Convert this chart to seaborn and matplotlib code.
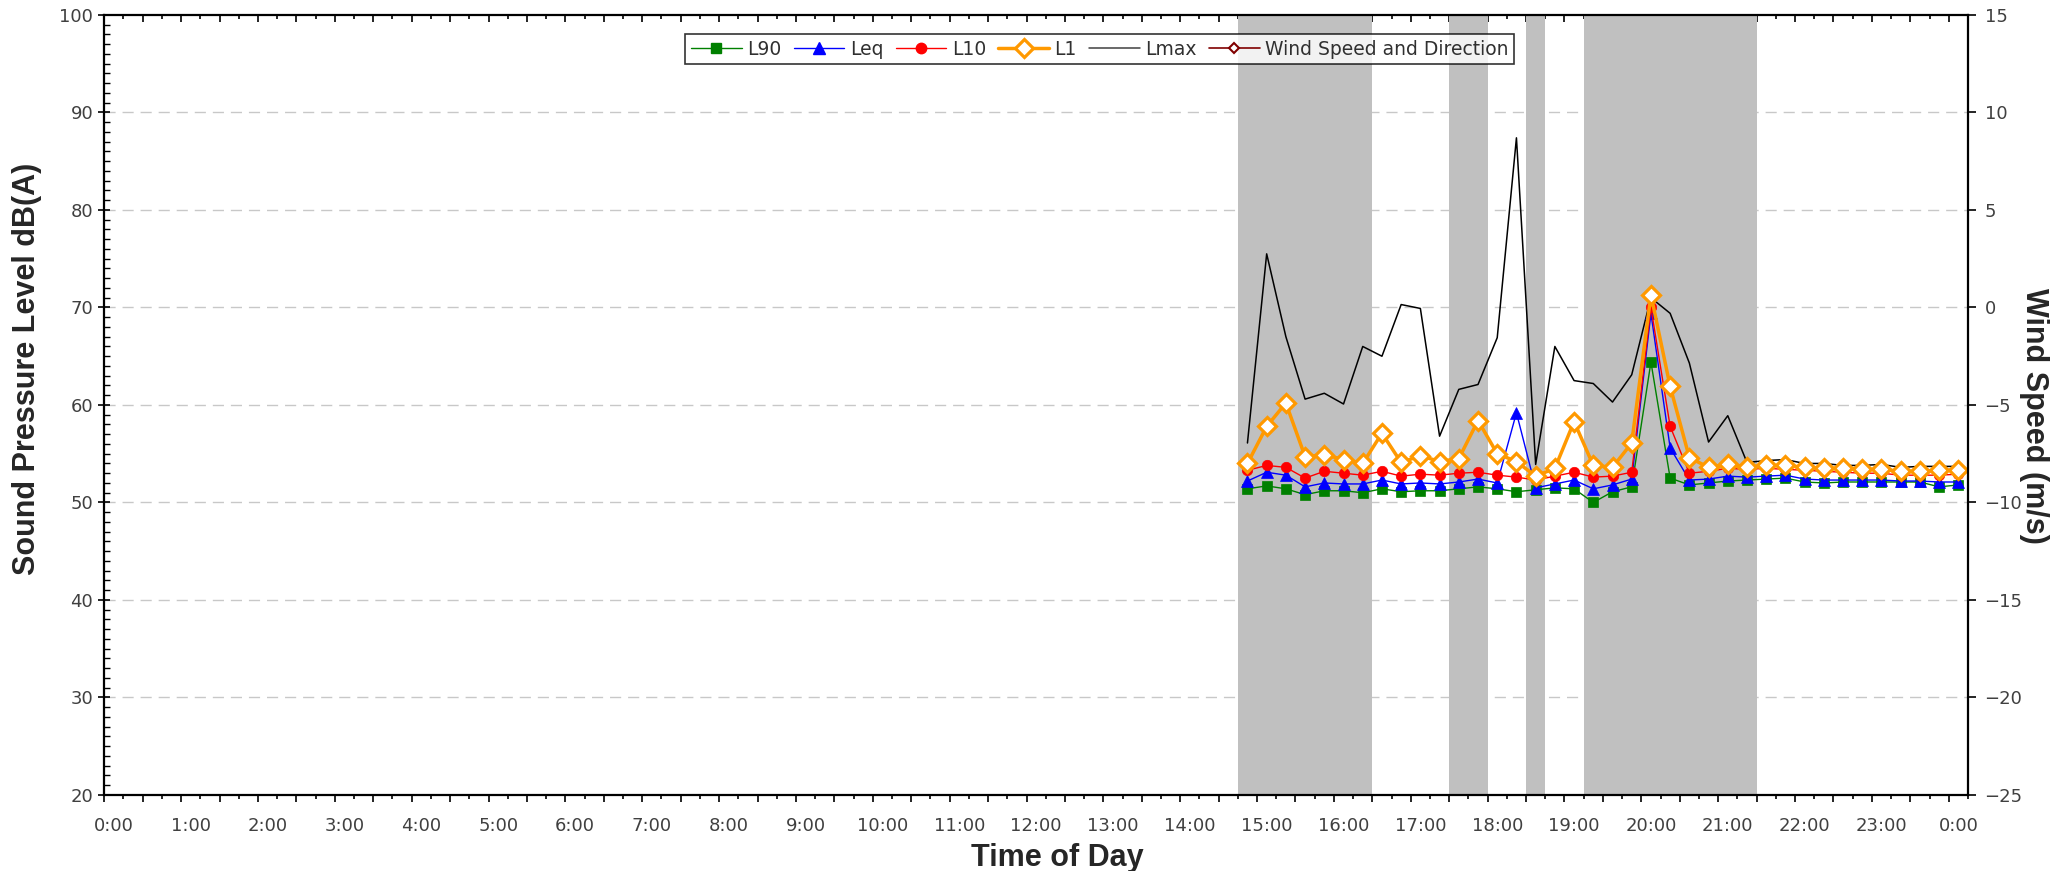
import numpy as np
import pandas as pd
import matplotlib
matplotlib.use("Agg")
import matplotlib.pyplot as plt
from matplotlib.lines import Line2D
import seaborn as sns

# ---------------- data ----------------
times = ["14:45", "15:00", "15:15", "15:30", "15:45", "16:00", "16:15", "16:30",
         "16:45", "17:00", "17:15", "17:30", "17:45", "18:00", "18:15", "18:30",
         "18:45", "19:00", "19:15", "19:30", "19:45", "20:00", "20:15", "20:30",
         "20:45", "21:00", "21:15", "21:30", "21:45", "22:00", "22:15", "22:30",
         "22:45", "23:00", "23:15", "23:30", "23:45", "24:00"]

L90 = [51.4, 51.7, 51.4, 50.8, 51.2, 51.2, 51.0, 51.4, 51.1, 51.2, 51.2, 51.4, 51.6,
       51.4, 51.1, 51.3, 51.5, 51.4, 50.0, 51.1, 51.6, 64.4, 52.5, 51.8, 52.0, 52.2,
       52.3, 52.4, 52.5, 52.1, 52.0, 52.1, 52.1, 52.1, 52.1, 52.1, 51.6, 51.8]
Leq = [52.2, 53.1, 52.8, 51.6, 52.0, 51.9, 51.9, 52.3, 51.9, 52.0, 51.9, 52.1, 52.4,
       52.0, 59.2, 51.5, 51.9, 52.3, 51.4, 51.8, 52.4, 69.4, 55.6, 52.3, 52.4, 52.7,
       52.6, 52.7, 52.8, 52.4, 52.3, 52.3, 52.3, 52.3, 52.2, 52.2, 52.1, 52.1]
L10 = [53.3, 53.8, 53.6, 52.5, 53.2, 53.0, 52.8, 53.2, 52.7, 52.9, 52.8, 53.0, 53.1,
       52.8, 52.6, 52.3, 52.7, 53.1, 52.6, 52.7, 53.1, 70.0, 57.8, 53.0, 53.2, 53.5,
       53.4, 53.5, 53.4, 53.3, 53.2, 53.1, 53.0, 53.0, 52.8, 52.8, 52.8, 52.9]
L1 = [54.0, 57.8, 60.2, 54.7, 54.9, 54.4, 54.0, 57.1, 54.1, 54.8, 54.2, 54.5, 58.4,
      55.0, 54.2, 52.7, 53.5, 58.3, 53.8, 53.6, 56.1, 71.3, 61.9, 54.6, 53.6, 53.9,
      53.6, 53.8, 53.8, 53.6, 53.5, 53.5, 53.4, 53.4, 53.2, 53.2, 53.3, 53.3]
Lmax = [56.1, 75.5, 67.0, 60.6, 61.2, 60.1, 66.0, 65.0, 70.3, 69.9, 56.8, 61.6, 62.1,
        66.9, 87.4, 53.9, 66.0, 62.5, 62.2, 60.3, 63.1, 71.0, 69.4, 64.3, 56.2, 58.9,
        54.1, 54.3, 54.4, 54.0, 54.0, 53.8, 53.8, 53.9, 53.6, 53.7, 53.7, 53.7]
# periods excluded / flagged (grey bands), one flag per 15-minute interval
flagged = [1, 1, 1, 1, 1, 1, 1, 0, 0, 0, 0, 1, 1, 0, 0, 1, 0, 0, 1, 1, 1, 1, 1, 1,
           1, 1, 1, 0, 0, 0, 0, 0, 0, 0, 0, 0, 0, 0]
wind_speed = []  # no wind data recorded

hour_labels = ["0:00", "1:00", "2:00", "3:00", "4:00", "5:00", "6:00", "7:00", "8:00",
               "9:00", "10:00", "11:00", "12:00", "13:00", "14:00", "15:00", "16:00",
               "17:00", "18:00", "19:00", "20:00", "21:00", "22:00", "23:00", "0:00"]

# ---------------- build frame ----------------
def to_hours(t):
    h, m = t.split(":")
    return int(h) + int(m) / 60.0

df = pd.DataFrame({"t": [to_hours(t) for t in times], "L90": L90, "Leq": Leq,
                   "L10": L10, "L1": L1, "Lmax": Lmax, "flag": flagged})

sns.set_style("white")
plt.rcParams["font.family"] = ["DejaVu Sans"]

fig = plt.figure(figsize=(20.65, 8.71), dpi=100)
ax = fig.add_axes([0.0505, 0.0873, 0.9025, 0.8955])
ax.set_xlim(-0.125, 24.125)
ax.set_ylim(20, 100)

# grey bands
fl = df[df["flag"] == 1]
ax.bar(fl["t"], height=80, bottom=20, width=0.25, color="#C0C0C0", zorder=1,
       linewidth=0, align="center")

# grid
for v in range(30, 100, 10):
    ax.axhline(v, color="#C8C8C8", lw=1.0, ls=(0, (8, 5)), zorder=0.5)

common = dict(ax=ax, legend=False)
sns.lineplot(data=df, x="t", y="Lmax", color="black", lw=1.1, zorder=2, **common)
sns.lineplot(data=df, x="t", y="L90", color="#008000", lw=1.0, marker="s",
             markersize=7.5, markeredgecolor="#008000", markeredgewidth=0.5, zorder=3, **common)
sns.lineplot(data=df, x="t", y="Leq", color="#0000FF", lw=1.0, marker="^",
             markersize=8.5, markeredgecolor="#0000FF", markeredgewidth=0.5, zorder=4, **common)
sns.lineplot(data=df, x="t", y="L10", color="#FF0000", lw=1.0, marker="o",
             markersize=7.5, markeredgecolor="#FF0000", markeredgewidth=0.5, zorder=5, **common)
sns.lineplot(data=df, x="t", y="L1", color="#FF9900", lw=2.5, marker="D",
             markersize=9, markerfacecolor="white", markeredgecolor="#FF9900",
             markeredgewidth=2.3, zorder=6, **common)

# axes styling
for s in ax.spines.values():
    s.set_color("black")
    s.set_linewidth(1.6)
    s.set_zorder(10)

ax.set_xticks(np.arange(0, 25, 1))
ax.set_xticklabels(hour_labels)
ax.set_xticks(np.arange(-0.125, 24.2, 0.5), minor=True)
ax.tick_params(axis="x", which="major", length=0, pad=16, labelsize=13,
               labelcolor="#404040")
ax.tick_params(axis="x", which="minor", length=5, width=1.2, direction="out",
               color="black", bottom=True, top=False)

secb = ax.secondary_xaxis("bottom")
secb.set_xticks(np.arange(0.125, 24.2, 0.5))
secb.tick_params(length=3, width=1.2, direction="out", labelbottom=False, color="black")
secb.spines["bottom"].set_visible(False)

sect1 = ax.secondary_xaxis("top")
sect1.set_xticks(np.arange(-0.125, 24.2, 0.5))
sect1.tick_params(length=5, width=1.2, direction="in", labeltop=False, color="black")
sect1.spines["top"].set_visible(False)
sect2 = ax.secondary_xaxis("top")
sect2.set_xticks(np.arange(0.125, 24.2, 0.5))
sect2.tick_params(length=3, width=1.2, direction="in", labeltop=False, color="black")
sect2.spines["top"].set_visible(False)

ax.set_yticks(np.arange(20, 101, 10))
ax.set_yticks(np.arange(20, 101, 1), minor=True)
ax.tick_params(axis="y", which="major", direction="inout", length=9, width=1.2,
               labelsize=13, labelcolor="#404040", color="black", left=True, right=False)
ax.tick_params(axis="y", which="minor", direction="in", length=4, width=1.0,
               color="black", left=True, right=False)

ax.set_xlabel("Time of Day", fontsize=22, fontweight="bold", family="Liberation Sans")
ax.xaxis.set_label_coords(0.5115, -0.061)
ax.set_ylabel("Sound Pressure Level dB(A)", fontsize=22, fontweight="bold",
              family="Liberation Sans")
ax.yaxis.set_label_coords(-0.0335, 0.5465)

# right axis: wind speed
ax2 = ax.twinx()
ax2.set_ylim(-25, 15)
ax2.set_yticks(np.arange(-25, 16, 5))
ax2.plot([], [], color="#800000")
ax2.tick_params(axis="y", direction="out", length=6, width=1.2, labelsize=13,
                labelcolor="#404040", color="black", pad=6)
for s in ax2.spines.values():
    s.set_visible(False)
ax2.set_ylabel("Wind Speed (m/s)", fontsize=22, fontweight="bold",
               family="Liberation Sans", rotation=270)
ax2.yaxis.set_label_coords(1.0435, 0.4856)

handles = [
    Line2D([], [], color="#008000", lw=1.0, marker="s", markersize=7.5),
    Line2D([], [], color="#0000FF", lw=1.0, marker="^", markersize=8.5),
    Line2D([], [], color="#FF0000", lw=1.0, marker="o", markersize=7.5),
    Line2D([], [], color="#FF9900", lw=2.5, marker="D", markersize=9,
           markerfacecolor="white", markeredgewidth=2.3),
    Line2D([], [], color="#404040", lw=1.1),
    Line2D([], [], color="#800000", lw=1.2, marker="D", markersize=5,
           markerfacecolor="white", markeredgewidth=1.5),
]
labels = ["L90", "Leq", "L10", "L1", "Lmax", "Wind Speed and Direction"]
leg = ax2.legend(handles, labels, loc="upper center", bbox_to_anchor=(0.5342, 0.9756),
                 borderaxespad=0, ncol=6, fontsize=13.5, frameon=True, fancybox=False,
                 handlelength=2.7, handletextpad=0.3, columnspacing=0.65,
                 borderpad=0.3, labelcolor="#303030")
leg.get_frame().set_edgecolor("black")
leg.get_frame().set_linewidth(1.2)
leg.set_zorder(20)

fig.savefig("out.png", dpi=100)
